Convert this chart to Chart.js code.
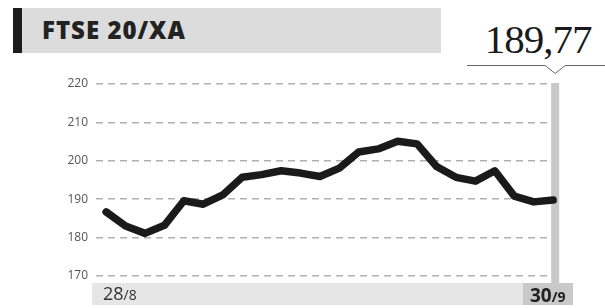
<!DOCTYPE html>
<html lang="pt">
<head>
<meta charset="UTF-8">
<title>FTSE 20/XA</title>
<script src="https://cdn.jsdelivr.net/npm/chart.js@4.4.3/dist/chart.umd.min.js"></script>
<style>
  html, body { margin: 0; padding: 0; background: #fff; }
  #wrap { position: relative; width: 605px; height: 308px; overflow: hidden; font-family: "Open Sans", sans-serif; }
  #chart { position: absolute; left: 0; top: 0; }
  .abs { position: absolute; }
  #titleBox { left: 22px; top: 8px; width: 419px; height: 45px; background: #dcdcdc; }
  #titleBar { left: 13px; top: 8px; width: 9px; height: 45px; background: #1c1c1c; }
  #title { left: 42px; top: 13px; font-weight: 800; font-size: 24px; color: #222; letter-spacing: 1px; }
  #value { left: 480px; top: 15px; width: 116px; text-align: center; font-family: "Liberation Serif", serif; font-size: 41px; color: #1a1a1a; letter-spacing: -1px; line-height: 48px; }
  #band { left: 92px; top: 283px; width: 481px; height: 22px; background: #e6e6e6; }
  #bandEnd { left: 523px; top: 283px; width: 50px; height: 22px; background: #c9c9c9; }
  #d1 { left: 103px; top: 281px; font-size: 18px; color: #333; font-weight: 400; }
  #d2 { left: 530px; top: 282px; font-size: 19px; color: #222; font-weight: 700; }
  .small { font-size: 14px; }
</style>
</head>
<body>
<div id="wrap">
  <div class="abs" id="titleBox"></div>
  <div class="abs" id="titleBar"></div>
  <div class="abs" id="title">FTSE 20/XA</div>
  <div class="abs" id="value">189,77</div>
  <div class="abs" id="band"></div>
  <div class="abs" id="bandEnd"></div>
  <canvas id="chart" width="605" height="308"></canvas>
  <div class="abs" id="d1">28<span class="small">/8</span></div>
  <div class="abs" id="d2">30<span class="small">/9</span></div>
</div>
<script>
// dados
const dias = ['28/8','29/8','30/8','31/8','1/9','4/9','5/9','6/9','7/9','8/9','11/9','12/9','13/9','14/9','15/9','18/9','19/9','20/9','21/9','22/9','25/9','26/9','27/9','30/9'];
const valores = [186.7, 183.0, 181.1, 183.2, 189.6, 188.7, 191.1, 195.7, 196.4, 197.4, 196.8, 195.9, 198.1, 202.3, 203.1, 205.1, 204.4, 198.5, 195.7, 194.7, 197.4, 190.8, 189.3, 189.77];
const yTicks = [170, 180, 190, 200, 210, 220];

const pontos = valores.map((v, i) => ({ x: i, y: v }));

// barra vertical cinzenta no último valor + seta do valor
const ultimoPlugin = {
  id: 'ultimo',
  beforeDatasetsDraw(chart) {
    const ctx = chart.ctx;
    const xs = chart.scales.x;
    const area = chart.chartArea;
    const px = xs.getPixelForValue(valores.length - 1) + 2;
    ctx.save();
    ctx.fillStyle = '#c9c9c9';
    ctx.fillRect(px - 4, area.top - 1, 8, area.bottom - area.top + 10);
    ctx.restore();
  },
  afterDraw(chart) {
    const ctx = chart.ctx;
    const px = chart.scales.x.getPixelForValue(valores.length - 1) + 2;
    const ly = 65;
    ctx.save();
    ctx.strokeStyle = '#666';
    ctx.lineWidth = 1;
    ctx.beginPath();
    ctx.moveTo(467, ly + 0.5);
    ctx.lineTo(px - 10, ly + 0.5);
    ctx.lineTo(px, ly + 8.5);
    ctx.lineTo(px + 10, ly + 0.5);
    ctx.lineTo(605, ly + 0.5);
    ctx.stroke();
    ctx.restore();
  }
};

new Chart(document.getElementById('chart'), {
  type: 'line',
  data: {
    datasets: [{
      data: pontos,
      borderColor: '#1a1a1a',
      borderWidth: 7.5,
      borderJoinStyle: 'round',
      borderCapStyle: 'round',
      pointRadius: 0,
      tension: 0
    }]
  },
  options: {
    responsive: false,
    animation: false,
    layout: { padding: { left: 0, top: 84, right: 46, bottom: 32 } },
    plugins: { legend: { display: false }, tooltip: { enabled: false } },
    scales: {
      x: {
        type: 'linear',
        display: false,
        min: -0.52,
        max: 23.3
      },
      y: {
        min: 170,
        max: 220,
        afterFit(scale) { scale.width = 96; },
        afterBuildTicks(scale) { scale.ticks = yTicks.map(v => ({ value: v })); },
        grid: {
          color: '#b0b0b0',
          lineWidth: 1.5,
          drawTicks: false
        },
        border: { display: false, dash: [7, 5] },
        ticks: {
          padding: 8,
          color: '#555',
          font: { family: 'Open Sans', size: 12 }
        }
      }
    }
  },
  plugins: [ultimoPlugin]
});
</script>
</body>
</html>
